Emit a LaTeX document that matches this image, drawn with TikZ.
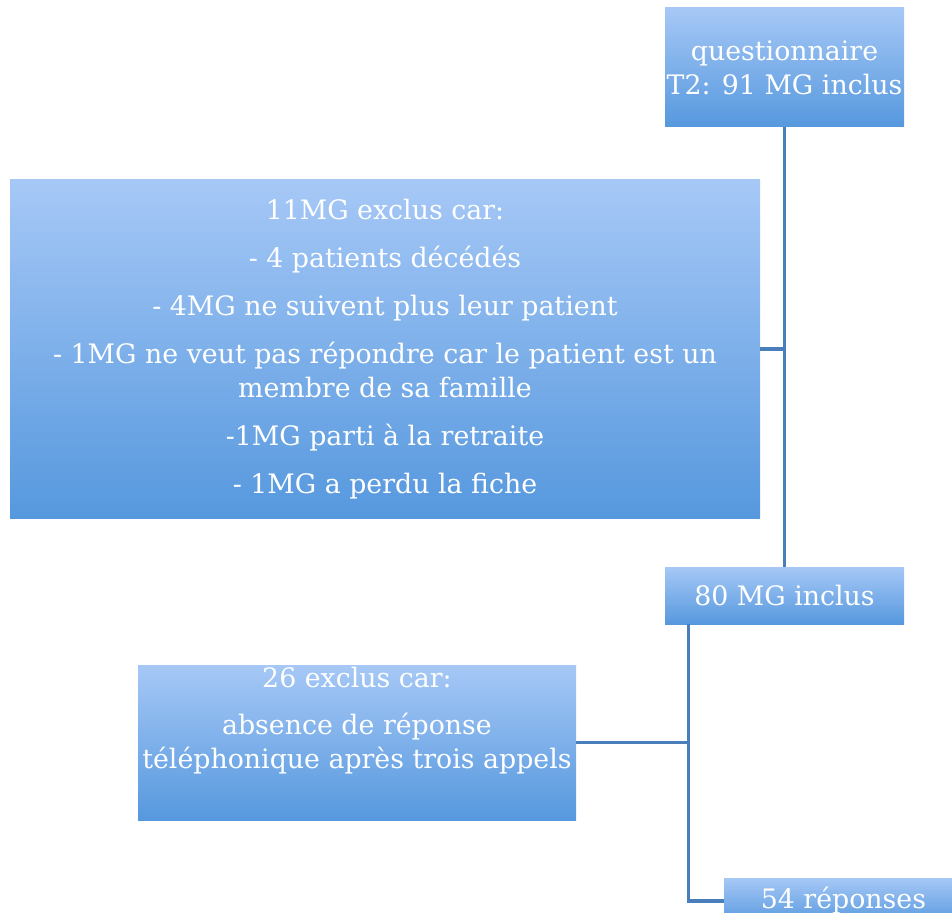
\documentclass[tikz,border=0pt]{standalone}
\usepackage{fontspec}
\setmainfont{DejaVu Serif}
\definecolor{boxtop}{RGB}{166,200,246}
\definecolor{boxbot}{RGB}{86,152,222}
\definecolor{linkblue}{RGB}{74,126,187}
\tikzset{
  boxfont/.style={font=\fontsize{26.8}{34}\selectfont},
  flowbox/.style={shade, top color=boxtop, bottom color=boxbot, draw=none,
    text=white, align=center, inner sep=0pt, boxfont},
  link/.style={draw=linkblue, line width=3.2pt}
}
\begin{document}
\begin{tikzpicture}[x=1pt, y=-1pt]
  % Frame
  \useasboundingbox (0, 0) rectangle (952, 912);
  \clip (0, 0) rectangle (952, 912);

  % Boxes
  \node[flowbox, minimum width=239pt, minimum height=119pt] (quest) at (784.5, 67.5)
    {questionnaire\\T2: 91 MG inclus};
  \node[flowbox, minimum width=750pt, minimum height=338pt] (excl1) at (385, 349)
    {11MG exclus car:\\[14pt]
     - 4 patients décédés\\[14pt]
     - 4MG ne suivent plus leur patient\\[14pt]
     - 1MG ne veut pas répondre car le patient est un\\
     membre de sa famille\\[14pt]
     -1MG parti à la retraite\\[14pt]
     - 1MG a perdu la fiche};
  \node[flowbox, minimum width=239pt, minimum height=57pt] (incl) at (784.5, 595.5)
    {80 MG inclus};
  \node[flowbox, minimum width=438pt, minimum height=155pt] (excl2) at (357, 742.5) {};
  \node[text=white, align=center, anchor=north, boxfont]
    (excl2txt) at (357, 664) {26 exclus car:\\[13pt]
     absence de réponse\\téléphonique après trois appels};
  \node[flowbox, minimum width=239pt, minimum height=46pt] (resp) at (843.5, 901)
    {\raisebox{7pt}{54 réponses}};

  % Connectors
  \draw[link] (quest.south) -- (incl.north);
  \draw[link] (excl1.east) -- (excl1.east -| quest.south);
  \coordinate (fork) at ([xshift=24pt]incl.south west);
  \draw[link] (fork) |- (resp.west);
  \draw[link] (excl2.east) -- (excl2.east -| fork);
\end{tikzpicture}
\end{document}
